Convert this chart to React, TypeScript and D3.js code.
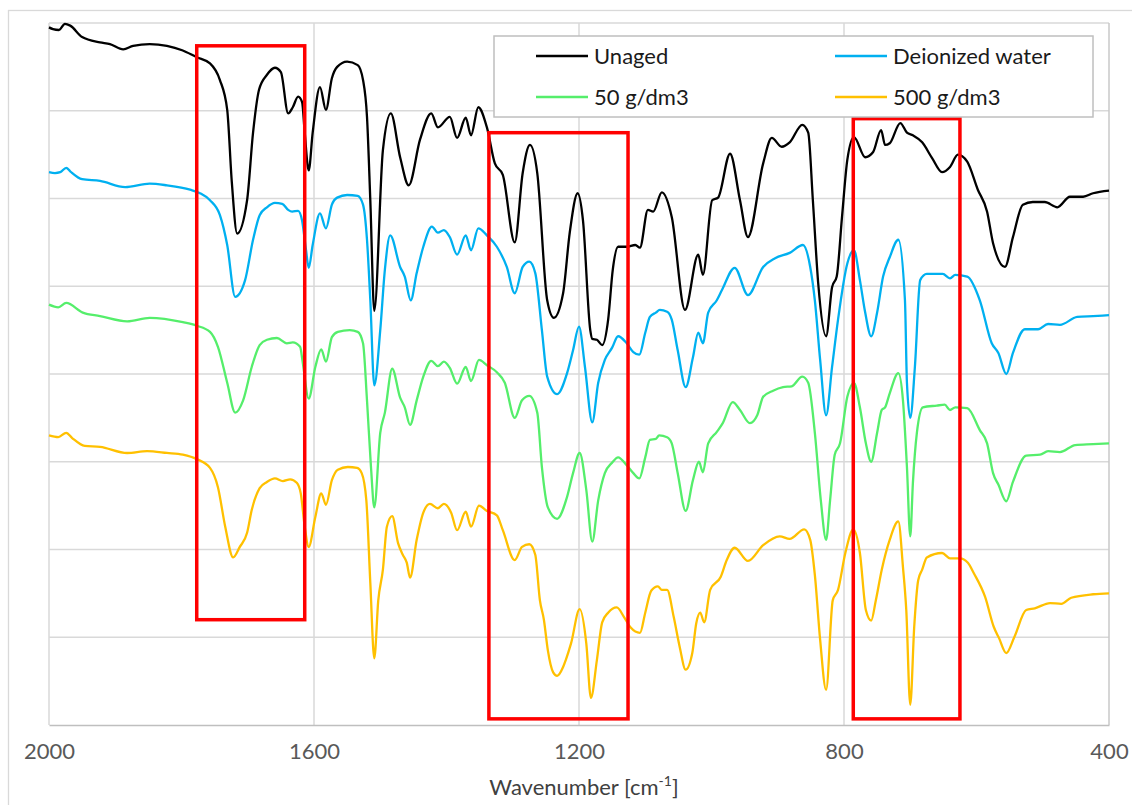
import React, { useEffect, useRef } from 'react';
import * as d3 from 'd3';

// FTIR spectra, [wavenumber cm-1, transmittance (offset, a.u.)]
const unaged: [number, number][] = [
  [2000, 79.5], [1994, 79.3], [1985, 79.2], [1976, 79.9], [1968, 79.7], [1950, 78.4], [1923, 77.8], [1908, 77.6],
  [1888, 77.0], [1873, 77.4], [1848, 77.6], [1822, 77.4], [1799, 76.9], [1777, 76.1], [1757, 75.4], [1742, 73.5],
  [1731, 70.1], [1724, 61.8], [1716, 56.0], [1701, 59.8], [1692, 67.5], [1683, 72.4], [1671, 74.1], [1659, 74.9],
  [1650, 74.4], [1639, 69.7], [1632, 70.4], [1624, 71.6], [1618, 71.0], [1614, 67.5], [1608, 63.2], [1602, 67.5],
  [1591, 72.7], [1582, 70.1], [1573, 73.7], [1565, 75.0], [1550, 75.6], [1534, 75.2], [1526, 73.5], [1520, 69.3],
  [1515, 59.8], [1509, 47.2], [1496, 65.5], [1484, 69.7], [1470, 64.7], [1457, 61.5], [1440, 66.7], [1423, 69.7],
  [1413, 68.1], [1395, 69.3], [1384, 66.9], [1371, 69.2], [1363, 67.2], [1352, 70.4], [1339, 68.1], [1327, 64.0],
  [1315, 62.7], [1297, 55.0], [1285, 62.9], [1274, 66.1], [1263, 62.9], [1248, 48.4], [1238, 46.4], [1224, 49.2],
  [1214, 56.1], [1202, 60.6], [1194, 57.5], [1183, 45.0], [1180, 44.0], [1173, 43.9], [1165, 43.3], [1156, 46.2],
  [1149, 51.9], [1141, 54.5], [1128, 54.5], [1115, 54.7], [1108, 54.4], [1096, 58.7], [1088, 58.5], [1075, 60.7],
  [1060, 57.9], [1040, 47.3], [1020, 53.6], [1013, 51.3], [999, 59.8], [990, 60.1], [972, 65.1], [957, 59.8],
  [945, 55.6], [922, 64.0], [909, 66.9], [894, 65.9], [882, 66.4], [863, 68.4], [854, 67.5], [847, 59.8],
  [839, 50.4], [827, 44.3], [818, 49.9], [811, 51.1], [803, 57.9], [795, 64.4], [785, 67.0], [768, 64.7],
  [756, 65.3], [744, 67.8], [738, 66.1], [731, 66.3], [715, 68.6], [705, 67.5], [696, 67.2], [682, 66.4],
  [667, 64.6], [652, 63.0], [640, 63.6], [628, 65.0], [614, 64.2], [598, 61.0], [584, 58.5], [575, 54.9],
  [557, 52.2], [545, 55.6], [530, 59.3], [515, 59.6], [497, 59.6], [478, 59.0], [459, 60.2], [439, 60.2],
  [424, 60.6], [400, 60.9],
];

const deionized: [number, number][] = [
  [2000, 63.0], [1991, 62.9], [1983, 63.0], [1974, 63.5], [1968, 63.1], [1950, 62.2], [1923, 62.0], [1885, 61.3],
  [1848, 61.7], [1822, 61.5], [1787, 61.0], [1772, 60.6], [1757, 59.8], [1742, 58.1], [1731, 54.7], [1719, 48.8],
  [1704, 50.7], [1692, 55.3], [1682, 58.1], [1671, 59.0], [1659, 59.5], [1648, 59.4], [1639, 58.7], [1633, 58.5],
  [1624, 58.6], [1618, 57.5], [1612, 54.1], [1608, 52.1], [1602, 54.7], [1591, 58.3], [1582, 56.6], [1573, 59.3],
  [1565, 60.1], [1550, 60.4], [1534, 60.3], [1526, 59.3], [1520, 55.3], [1515, 48.4], [1509, 38.7], [1500, 45.0],
  [1493, 51.9], [1485, 55.8], [1470, 52.2], [1463, 51.1], [1454, 48.4], [1445, 51.5], [1435, 54.5], [1422, 56.8],
  [1413, 56.1], [1404, 56.4], [1395, 55.6], [1384, 53.6], [1371, 55.8], [1363, 54.1], [1352, 56.6], [1339, 55.8],
  [1324, 54.5], [1309, 52.2], [1297, 49.2], [1285, 52.2], [1275, 52.8], [1266, 51.5], [1256, 45.0], [1248, 39.7],
  [1233, 37.7], [1218, 40.1], [1209, 42.7], [1200, 45.4], [1191, 40.8], [1180, 34.5], [1171, 39.0], [1161, 41.6],
  [1150, 43.0], [1141, 44.3], [1128, 43.5], [1118, 42.5], [1109, 42.2], [1100, 44.7], [1093, 46.5], [1084, 47.0],
  [1078, 47.3], [1067, 47.1], [1060, 46.2], [1051, 42.7], [1039, 38.5], [1028, 41.9], [1020, 44.7], [1013, 43.5],
  [1005, 47.0], [992, 48.4], [984, 49.6], [965, 52.1], [945, 49.0], [922, 52.2], [904, 53.2], [882, 53.8],
  [862, 54.7], [851, 52.2], [844, 48.4], [836, 41.6], [827, 35.3], [818, 40.8], [809, 46.2], [795, 52.6],
  [785, 54.1], [776, 50.7], [768, 47.0], [759, 44.3], [750, 47.0], [741, 51.1], [731, 53.3], [718, 55.3],
  [708, 48.4], [705, 39.0], [700, 35.0], [693, 40.8], [685, 50.7], [675, 51.4], [651, 51.4], [640, 50.9],
  [632, 51.3], [614, 51.1], [595, 48.4], [577, 43.5], [567, 42.4], [555, 40.0], [545, 42.4], [527, 45.1],
  [507, 45.1], [492, 45.7], [474, 45.6], [448, 46.5], [424, 46.6], [400, 46.7],
];

const conc50: [number, number][] = [
  [2000, 47.9], [1986, 47.6], [1974, 48.1], [1949, 47.0], [1923, 46.6], [1882, 46.0], [1848, 46.4], [1798, 45.9],
  [1777, 45.5], [1757, 44.8], [1745, 43.1], [1731, 39.0], [1719, 35.6], [1707, 37.0], [1694, 40.8], [1682, 43.3],
  [1671, 43.9], [1656, 44.1], [1641, 43.5], [1632, 43.6], [1621, 43.1], [1617, 41.3], [1608, 37.2], [1598, 40.8],
  [1589, 42.8], [1582, 41.4], [1573, 44.2], [1564, 44.8], [1546, 45.0], [1534, 44.8], [1526, 43.5], [1520, 37.0],
  [1514, 29.4], [1509, 24.8], [1500, 33.3], [1493, 35.6], [1482, 40.6], [1470, 37.3], [1463, 36.2], [1455, 34.2],
  [1445, 37.0], [1435, 39.7], [1423, 41.5], [1413, 40.9], [1404, 41.4], [1395, 40.7], [1384, 38.9], [1371, 40.8],
  [1363, 39.2], [1351, 41.6], [1339, 41.0], [1324, 40.2], [1312, 39.0], [1297, 35.0], [1286, 37.0], [1275, 37.5],
  [1263, 35.6], [1256, 29.4], [1247, 24.8], [1233, 23.5], [1218, 26.0], [1209, 28.7], [1199, 31.0], [1189, 26.8],
  [1180, 20.9], [1171, 25.6], [1161, 28.7], [1150, 29.9], [1141, 30.5], [1128, 29.6], [1118, 28.7], [1109, 28.1],
  [1100, 30.5], [1093, 32.5], [1084, 32.6], [1079, 33.0], [1067, 32.8], [1060, 32.1], [1051, 28.7], [1039, 24.4],
  [1028, 27.9], [1019, 30.0], [1013, 28.8], [1005, 32.1], [992, 33.4], [983, 34.4], [968, 36.8], [957, 35.9],
  [942, 34.4], [931, 35.3], [922, 37.4], [907, 38.1], [892, 38.5], [879, 38.6], [863, 39.7], [854, 39.0],
  [844, 33.3], [835, 25.6], [827, 21.1], [821, 25.6], [814, 30.8], [806, 32.1], [795, 37.4], [785, 39.0],
  [776, 36.2], [767, 32.1], [759, 30.0], [750, 33.3], [743, 35.9], [738, 36.2], [731, 37.8], [718, 40.1],
  [711, 37.0], [705, 29.4], [700, 21.5], [696, 27.6], [690, 33.3], [681, 36.2], [660, 36.4], [648, 36.5],
  [640, 35.9], [632, 36.2], [614, 36.1], [595, 33.6], [584, 32.1], [575, 28.7], [567, 27.4], [555, 25.5],
  [545, 27.7], [525, 30.7], [504, 30.8], [492, 31.2], [474, 31.1], [451, 31.9], [424, 32.0], [400, 32.1],
];

const conc500: [number, number][] = [
  [2000, 33.0], [1986, 32.8], [1974, 33.3], [1965, 32.7], [1946, 31.8], [1923, 31.7], [1882, 31.0], [1852, 31.2],
  [1822, 31.0], [1798, 30.8], [1777, 30.3], [1757, 29.3], [1745, 27.1], [1734, 22.6], [1722, 19.1], [1712, 20.3],
  [1701, 21.9], [1694, 24.5], [1682, 27.0], [1671, 27.7], [1659, 28.1], [1647, 27.8], [1636, 28.0], [1626, 27.6],
  [1620, 26.4], [1614, 22.6], [1608, 20.3], [1598, 23.7], [1589, 26.4], [1582, 25.1], [1573, 27.9], [1564, 29.1],
  [1549, 29.4], [1535, 29.3], [1528, 28.7], [1521, 25.6], [1515, 16.2], [1509, 7.6], [1503, 14.2], [1496, 17.7],
  [1490, 22.6], [1482, 23.8], [1473, 20.7], [1466, 19.4], [1460, 18.5], [1455, 16.8], [1445, 21.1], [1435, 24.2],
  [1425, 25.2], [1413, 24.7], [1404, 25.2], [1393, 24.2], [1384, 22.2], [1371, 24.3], [1363, 22.6], [1351, 25.0],
  [1339, 24.4], [1324, 23.9], [1315, 22.2], [1297, 18.8], [1286, 20.3], [1275, 20.6], [1266, 19.4], [1259, 14.2],
  [1253, 12.0], [1247, 8.5], [1239, 6.0], [1233, 5.6], [1224, 6.6], [1220, 7.4], [1212, 9.3], [1199, 13.2],
  [1189, 9.3], [1182, 3.1], [1173, 7.4], [1165, 11.7], [1156, 12.8], [1143, 13.4], [1132, 12.3], [1122, 11.1],
  [1108, 10.5], [1100, 12.8], [1091, 15.3], [1081, 15.8], [1075, 15.4], [1067, 15.4], [1057, 12.3], [1048, 8.9],
  [1039, 6.3], [1029, 8.2], [1023, 11.6], [1017, 12.8], [1011, 11.7], [1002, 15.4], [986, 16.9], [977, 18.8],
  [965, 20.2], [945, 18.7], [922, 20.5], [897, 21.5], [882, 21.2], [860, 22.3], [851, 21.1], [844, 17.1],
  [836, 9.7], [827, 4.0], [817, 14.2], [809, 15.4], [798, 19.6], [786, 22.3], [776, 19.6], [767, 13.1],
  [759, 11.9], [752, 14.2], [743, 17.7], [731, 21.1], [718, 23.2], [711, 18.0], [706, 13.1], [700, 2.3],
  [694, 11.2], [688, 16.5], [682, 17.7], [675, 19.1], [652, 19.6], [640, 19.0], [625, 19.0], [613, 18.5],
  [604, 17.3], [587, 14.6], [574, 11.2], [566, 9.9], [555, 8.2], [543, 10.0], [525, 13.1], [512, 13.3],
  [489, 13.9], [472, 13.8], [457, 14.5], [424, 14.9], [400, 15.0],
];

const seriesNames = ['Unaged', 'Deionized water', '50 g/dm3', '500 g/dm3'];
const seriesColors = ['#000000', '#00b0f0', '#55ee6b', '#ffc000'];
const xTicks = [2000, 1600, 1200, 800, 400];
const yGrid = [0, 10, 20, 30, 40, 50, 60, 70, 80];

// highlighted bands: [from wn, to wn, top, bottom]
const bands: [number, number, number, number][] = [
  [1777, 1614, 77.4, 12.0],
  [1336, 1126, 67.5, 0.7],
  [786, 625, 69.1, 0.7],
];

const FONT = 'Lato, "Open Sans", sans-serif';

export default function App() {
  const ref = useRef<SVGSVGElement>(null);

  useEffect(() => {
    const W = 1132;
    const H = 805;
    const margin = { top: 23, right: 23, bottom: 80, left: 49 };

    const svg = d3.select(ref.current).attr('width', W).attr('height', H);
    svg.selectAll('*').remove();

    const x = d3.scaleLinear().domain([2000, 400]).range([margin.left, W - margin.right]);
    const y = d3.scaleLinear().domain([0, 80]).range([H - margin.bottom, margin.top]);

    // chart frame
    svg.append('rect')
      .attr('x', 8.5).attr('y', 10.5)
      .attr('width', W + 10).attr('height', H + 10)
      .attr('fill', '#fff').attr('stroke', '#d9d9d9').attr('stroke-width', 1.3);

    // grid
    svg.append('g').selectAll('line.h')
      .data(yGrid.slice(1))
      .enter().append('line')
      .attr('x1', x(2000)).attr('x2', x(400))
      .attr('y1', d => y(d)).attr('y2', d => y(d))
      .attr('stroke', '#d9d9d9').attr('stroke-width', 1.5);

    svg.append('g').selectAll('line.v')
      .data(xTicks)
      .enter().append('line')
      .attr('x1', d => x(d)).attr('x2', d => x(d))
      .attr('y1', y(80)).attr('y2', y(0))
      .attr('stroke', d => (d === 400 ? '#c8c8c8' : '#d9d9d9')).attr('stroke-width', 1.5);

    // x axis
    const xAxis = d3.axisBottom(x).tickValues(xTicks).tickSize(0).tickPadding(14).tickFormat(d3.format('d'));
    const gx = svg.append('g')
      .attr('transform', `translate(0,${y(0)})`)
      .call(xAxis);
    gx.select('.domain').attr('stroke', '#bfbfbf').attr('stroke-width', 1.5);
    gx.selectAll('text')
      .attr('fill', '#595959')
      .attr('font-family', FONT)
      .attr('font-size', 22)
      .attr('dy', '0.9em');

    const title = svg.append('text')
      .attr('x', (x(2000) + x(400)) / 2 + 5)
      .attr('y', 795)
      .attr('text-anchor', 'middle')
      .attr('font-family', FONT)
      .attr('font-size', 22)
      .attr('fill', '#404040');
    title.append('tspan').text('Wavenumber [cm');
    title.append('tspan').text('-1').attr('font-size', 14).attr('dy', -9);
    title.append('tspan').text(']').attr('dy', 9);

    // spectra
    const line = d3.line<[number, number]>()
      .x(d => x(d[0]))
      .y(d => y(d[1]))
      .curve(d3.curveMonotoneX);

    const spectra = [unaged, deionized, conc50, conc500];
    svg.append('g').selectAll('path')
      .data(spectra)
      .enter().append('path')
      .attr('d', d => line(d))
      .attr('fill', 'none')
      .attr('stroke', (_, i) => seriesColors[i])
      .attr('stroke-width', 2.3)
      .attr('stroke-linejoin', 'round');

    // red boxes
    svg.append('g').selectAll('rect')
      .data(bands)
      .enter().append('rect')
      .attr('x', d => x(d[0]))
      .attr('y', d => y(d[2]))
      .attr('width', d => x(d[1]) - x(d[0]))
      .attr('height', d => y(d[3]) - y(d[2]))
      .attr('fill', 'none')
      .attr('stroke', '#ff0000')
      .attr('stroke-width', 3.5);

    // legend
    const lg = svg.append('g').attr('transform', 'translate(494,36)');
    lg.append('rect')
      .attr('width', 599).attr('height', 81)
      .attr('fill', '#fff').attr('stroke', '#bfbfbf').attr('stroke-width', 1.5);
    seriesNames.forEach((name, i) => {
      const col = i % 2;
      const row = Math.floor(i / 2);
      const g = lg.append('g').attr('transform', `translate(${42 + col * 299},${20 + row * 41})`);
      g.append('line')
        .attr('x1', 0).attr('x2', 52)
        .attr('stroke', seriesColors[i]).attr('stroke-width', 2.5);
      g.append('text')
        .attr('x', 58).attr('y', 7.5)
        .attr('font-family', FONT)
        .attr('font-size', 22)
        .attr('fill', '#1a1a1a')
        .text(name);
    });
  }, []);

  return (
    <div style={{ position: 'absolute', left: 0, top: 0 }}>
      <svg ref={ref} style={{ display: 'block' }} />
    </div>
  );
}
